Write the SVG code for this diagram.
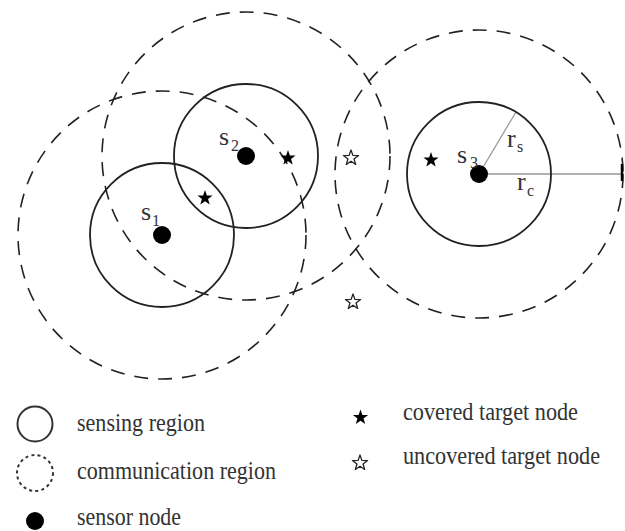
<svg xmlns="http://www.w3.org/2000/svg" xmlns:xlink="http://www.w3.org/1999/xlink" width="625" height="531" viewBox="0 0 625 531">
<style>
.sense{fill:none;stroke:#222;stroke-width:1.8}
.comm{fill:none;stroke:#222;stroke-width:1.6;stroke-dasharray:14 10}
.dot{fill:#000}
.lbl{font-family:"Liberation Serif","Times New Roman",serif;font-size:26px;fill:#333}
.sub{font-family:"Liberation Serif","Times New Roman",serif;font-size:16px;fill:#333}
.leg{font-family:"Liberation Serif","Times New Roman",serif;font-size:25px;fill:#333}
.radius{stroke:#999;stroke-width:1.3;fill:none}
.cov{fill:#000}
.unc{fill:#fff;stroke:#222;stroke-width:1.3;stroke-linejoin:round}
</style>
<defs>
<path id="star" d="M0,-8 L1.88,-2.59 L7.61,-2.47 L3.04,0.99 L4.70,6.47 L0,3.2 L-4.70,6.47 L-3.04,0.99 L-7.61,-2.47 L-1.88,-2.59 Z"/>
</defs>
<rect width="625" height="531" fill="#fff"/>

<g id="comm-regions">
<circle class="comm" cx="162" cy="235" r="144"/>
<circle class="comm" cx="246" cy="156" r="144"/>
<circle class="comm" cx="479" cy="174" r="144"/>
</g>

<g id="connectors">
<line class="radius" x1="479" y1="174" x2="516" y2="112"/>
<line class="radius" x1="479" y1="174" x2="622" y2="174"/>
<line x1="622" y1="164" x2="622" y2="181" stroke="#000" stroke-width="2.5"/>
</g>

<g id="s1">
<circle class="sense" cx="162" cy="235" r="72"/>
<circle class="dot" cx="162" cy="235" r="9"/>
<text class="lbl" x="141" y="220">s</text><text class="sub" x="152" y="226">1</text>
</g>
<g id="s2">
<circle class="sense" cx="246" cy="156" r="72"/>
<circle class="dot" cx="246" cy="156" r="9"/>
<text class="lbl" x="219" y="145">s</text><text class="sub" x="231" y="151">2</text>
</g>
<g id="s3">
<circle class="sense" cx="479" cy="174" r="72"/>
<circle class="dot" cx="479" cy="174" r="9"/>
<text class="lbl" x="457" y="163">s</text><text class="sub" x="470" y="168">3</text>
</g>

<g id="radius-labels">
<text class="lbl" x="507" y="147">r</text><text class="sub" x="517" y="152">s</text>
<text class="lbl" x="517" y="190">r</text><text class="sub" x="527" y="196">c</text>
</g>

<g id="targets">
<use href="#star" class="cov" x="288" y="158"/>
<use href="#star" class="cov" x="205" y="198"/>
<use href="#star" class="cov" x="431" y="160"/>
<use href="#star" class="unc" x="351" y="158"/>
<use href="#star" class="unc" x="353" y="302"/>
</g>

<g id="legend">
<circle cx="35" cy="424" r="17.5" fill="none" stroke="#333" stroke-width="2"/>
<text class="leg" x="77" y="431" textLength="128" lengthAdjust="spacingAndGlyphs">sensing region</text>
<circle cx="35" cy="473" r="18" fill="none" stroke="#333" stroke-width="2" stroke-dasharray="3 3.2"/>
<text class="leg" x="77" y="479" textLength="199" lengthAdjust="spacingAndGlyphs">communication region</text>
<circle cx="35" cy="521" r="9" fill="#000"/>
<text class="leg" x="77" y="525" textLength="104" lengthAdjust="spacingAndGlyphs">sensor node</text>
<use href="#star" class="cov" x="360.5" y="417.5"/>
<text class="leg" x="403" y="420" textLength="175" lengthAdjust="spacingAndGlyphs">covered target node</text>
<use href="#star" class="unc" x="360" y="463"/>
<text class="leg" x="403" y="464" textLength="197" lengthAdjust="spacingAndGlyphs">uncovered target node</text>
</g>
</svg>
